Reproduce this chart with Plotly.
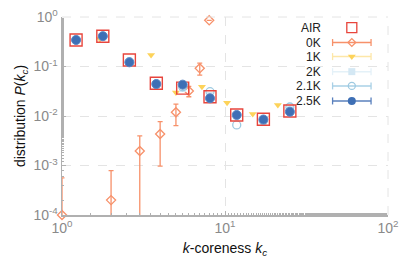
import plotly.graph_objects as go

# ---- data ----
kc_bins = [1.22, 1.78, 2.59, 3.79, 5.50, 8.09, 11.8, 17.2, 25.0]
p_air = [0.343, 0.408, 0.135, 0.0458, 0.0365, 0.0245, 0.0105, 0.0086, 0.0126]
p_25k = [0.343, 0.410, 0.1215, 0.0443, 0.0430, 0.0228, 0.0105, 0.0085, 0.0122]
p_21k = [0.345, 0.405, 0.125, 0.044, 0.039, 0.031, 0.0066, 0.0080, 0.0152]
p_2k = [0.340, 0.400, 0.122, 0.043, 0.036, 0.026, 0.0100, 0.0079, 0.0140]

kc_1k = [1.71, 3.52, 5.0, 7.22, 10.3, 14.8, 21.1]
p_1k = [0.36, 0.171, 0.030, 0.039, 0.0186, 0.011, 0.0167]

kc_0k = [1, 2, 3, 4, 5, 6, 7, 8]
p_0k = [1.0e-4, 2.0e-4, 1.96e-3, 4.33e-3, 0.0119, 0.032, 0.092, 0.858]
err_0k = [4.6e-4, 5.85e-4, 2.0e-3, 3.36e-3, 0.0055, 0.0075, 0.025, 0.0]

legend_names = ["AIR", "0K", "1K", "2K", "2.1K", "2.5K"]

C_AIR = "#e8453c"
C_0K = "#f7916a"
C_1K = "#fdd35a"
C_2K = "#d4e8f4"
C_21K = "#9ecae1"
C_25K = "#3e6fb5"

fig = go.Figure()

fig.add_trace(go.Scatter(
    x=kc_0k, y=p_0k, mode="markers", cliponaxis=False,
    marker=dict(symbol="diamond-open", size=7, color=C_0K, line=dict(width=1.3)),
    error_y=dict(type="data", array=err_0k, color=C_0K, thickness=1.3, width=2.5),
))
fig.add_trace(go.Scatter(
    x=kc_1k, y=p_1k, mode="markers",
    marker=dict(symbol="triangle-down", size=7, color=C_1K, line=dict(width=0)),
))
fig.add_trace(go.Scatter(
    x=kc_bins, y=p_2k, mode="markers",
    marker=dict(symbol="square", size=7, color=C_2K, line=dict(width=0)),
))
fig.add_trace(go.Scatter(
    x=kc_bins, y=p_21k, mode="markers",
    marker=dict(symbol="circle-open", size=8, color=C_21K, line=dict(width=1.3)),
))
fig.add_trace(go.Scatter(
    x=kc_bins, y=p_air, mode="markers",
    marker=dict(symbol="square-open", size=12, color=C_AIR, line=dict(width=1.4)),
))
fig.add_trace(go.Scatter(
    x=kc_bins, y=p_25k, mode="markers",
    marker=dict(symbol="circle", size=9, color=C_25K, line=dict(width=1, color="#5a86c4")),
))

# ---- manual legend (text left of symbol) on overlay axes ----
leg_y = [0.946, 0.871, 0.800, 0.724, 0.652, 0.576]
lx0, lxm, lx1, ltext = 0.830, 0.889, 0.948, 0.801
styles = [
    (None, dict(symbol="square-open", size=10, color=C_AIR, line=dict(width=1.3))),
    (C_0K, dict(symbol="diamond-open", size=6, color=C_0K, line=dict(width=1.3))),
    ("#fde7a8", dict(symbol="triangle-down", size=7, color=C_1K)),
    ("#e4f1f8", dict(symbol="square", size=7, color=C_2K)),
    ("#a9d0e6", dict(symbol="circle-open", size=7, color=C_21K, line=dict(width=1.3))),
    ("#5a80bd", dict(symbol="circle", size=8, color=C_25K)),
]
for name, yy, (lc, mk) in zip(legend_names, leg_y, styles):
    if lc is not None:
        fig.add_trace(go.Scatter(x=[lx0, lx1], y=[yy, yy], mode="lines+markers",
                                 line=dict(color=lc, width=1.5),
                                 marker=dict(symbol="line-ns", size=5, line=dict(color=lc, width=1.3)),
                                 xaxis="x2", yaxis="y2"))
    fig.add_trace(go.Scatter(x=[lxm], y=[yy], mode="markers", marker=mk,
                             xaxis="x2", yaxis="y2"))
    fig.add_annotation(x=ltext, y=yy, xref="paper", yref="paper", text=name,
                       showarrow=False, xanchor="right", yanchor="middle",
                       font=dict(size=12, color="#222222"))

sup = lambda e: "10<sup>%d</sup>" % e
fig.update_layout(
    width=415, height=277,
    margin=dict(l=62, r=27, t=17, b=62),
    paper_bgcolor="white", plot_bgcolor="white",
    showlegend=False, hovermode=False,
    font=dict(family="Liberation Sans, Arial, sans-serif", size=13, color="#222222"),
    xaxis=dict(type="log", range=[0, 2], automargin=False,
               tickvals=[1, 10, 100], ticktext=[sup(0), sup(1), sup(2)],
               tickfont=dict(size=14, color="#8a8a8a"),
               showline=True, linecolor="#b0b0b0", linewidth=1.5, mirror=False,
               showgrid=True, gridcolor="#e4e4e4", griddash="dash", gridwidth=1,
               ticks="inside", ticklen=4, tickcolor="#b0b0b0",
               minor=dict(ticks="inside", ticklen=2, tickcolor="#b0b0b0", showgrid=False),
               zeroline=False,
               title=dict(text="<i>k</i>-coreness <i>k</i><sub><i>c</i></sub>",
                          font=dict(size=14, color="#111111"), standoff=8)),
    yaxis=dict(type="log", range=[-4, 0], automargin=False,
               tickvals=[1e-4, 1e-3, 1e-2, 1e-1, 1],
               ticktext=[sup(-4), sup(-3), sup(-2), sup(-1), sup(0)],
               tickfont=dict(size=14, color="#8a8a8a"),
               showline=True, linecolor="#b0b0b0", linewidth=1.5, mirror=False,
               showgrid=True, gridcolor="#e4e4e4", griddash="dash", gridwidth=1,
               ticks="inside", ticklen=4, tickcolor="#b0b0b0",
               minor=dict(ticks="inside", ticklen=2, tickcolor="#b0b0b0", showgrid=False),
               zeroline=False,
               title=dict(text="distribution <i>P</i>(<i>k</i><sub><i>c</i></sub>)",
                          font=dict(size=14, color="#111111"), standoff=4)),
    xaxis2=dict(overlaying="x", range=[0, 1], visible=False, anchor="y2", automargin=False),
    yaxis2=dict(overlaying="y", range=[0, 1], visible=False, anchor="x2", automargin=False),
    shapes=[
        dict(type="line", xref="paper", yref="paper", x0=0, x1=1, y0=1, y1=1,
             line=dict(color="#e4e4e4", width=1, dash="dash")),
        dict(type="line", xref="paper", yref="paper", x0=1, x1=1, y0=0, y1=1,
             line=dict(color="#e4e4e4", width=1, dash="dash")),
    ],
)

fig.write_html("out.html", config={"displayModeBar": False, "staticPlot": True},
               post_script="document.body.style.margin='0';")
